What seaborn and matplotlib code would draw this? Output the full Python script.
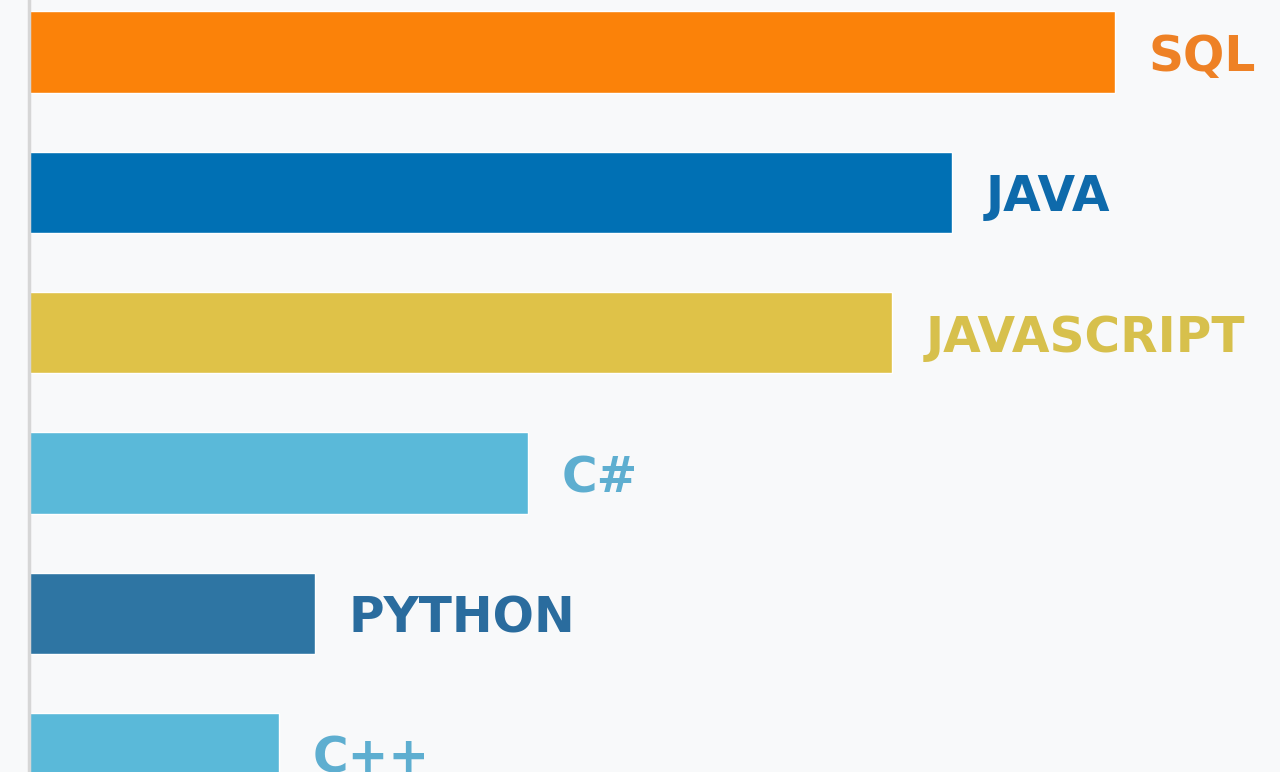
import matplotlib
matplotlib.use("Agg")
import matplotlib.pyplot as plt
import seaborn as sns
import pandas as pd

languages = ["SQL", "JAVA", "JAVASCRIPT", "C#", "PYTHON", "C++"]
values = [1086, 923, 863, 499, 286, 250]
bar_colors = ["#fb8209", "#0070b4", "#dfc248", "#5ab9d9", "#2e75a3", "#5ab9d9"]
label_colors = ["#ee8125", "#0e6aab", "#d7c04c", "#5eaed0", "#2a6c9e", "#5eaed0"]

df = pd.DataFrame({"language": languages, "value": values})

sns.set_theme(style="white")
plt.rcParams["font.family"] = ["DejaVu Sans"]

bg = "#f8f9fa"
fig = plt.figure(figsize=(12.8, 7.72), dpi=100, facecolor=bg)
ax = fig.add_axes([29 / 1280, 0, 1 - 29 / 1280, 1])
ax.set_facecolor(bg)

sns.barplot(data=df, x="value", y="language", hue="language",
            palette=dict(zip(languages, bar_colors)), orient="h",
            width=0.58, dodge=False, legend=False, saturation=1, ax=ax)

for i, (lang, v, c) in enumerate(zip(languages, values, label_colors)):
    ax.annotate(lang, xy=(v, i), xytext=(24, 0), textcoords="offset points",
                ha="left", va="center_baseline", fontsize=35, fontweight="bold",
                color=c)

ax.set_xlim(0, 1251)
ax.set_ylim(5.13, -0.37)
ax.set_xticks([])
ax.set_yticks([])
ax.set_xlabel("")
ax.set_ylabel("")
for s in ["top", "right", "bottom"]:
    ax.spines[s].set_visible(False)
ax.spines["left"].set_color("#d6d6d6")
ax.spines["left"].set_linewidth(2.5)

fig.savefig("out.png", dpi=100, facecolor=bg)
